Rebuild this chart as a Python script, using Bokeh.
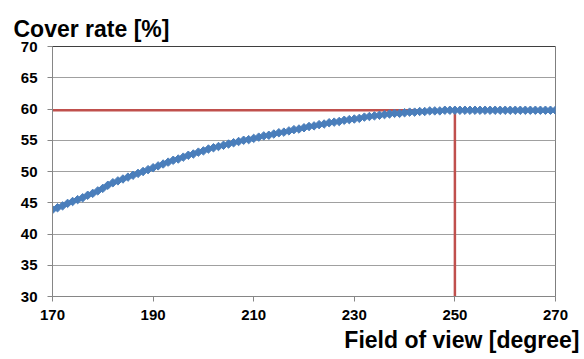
import numpy as np
from bokeh.plotting import figure
from bokeh.models import Title, Span, FixedTicker
from bokeh.embed import file_html
from bokeh.resources import INLINE

# Field of view [degree]
fov = list(range(170, 271))
# Cover rate [%] (one value per degree)
cover = [
    43.9, 44.2, 44.5, 44.9, 45.2, 45.5, 45.8, 46.2, 46.5, 46.9,   # 170-179
    47.3, 47.8, 48.2, 48.5, 48.8, 49.1, 49.4, 49.7, 50.0, 50.3,   # 180-189
    50.6, 50.9, 51.2, 51.5, 51.8, 52.0, 52.3, 52.6, 52.8, 53.1,   # 190-199
    53.3, 53.6, 53.8, 54.0, 54.2, 54.4, 54.6, 54.8, 55.0, 55.1,   # 200-209
    55.3, 55.5, 55.7, 55.8, 56.0, 56.2, 56.3, 56.5, 56.7, 56.8,   # 210-219
    57.0, 57.2, 57.3, 57.5, 57.6, 57.8, 57.9, 58.0, 58.2, 58.3,   # 220-229
    58.4, 58.5, 58.7, 58.8, 58.9, 59.0, 59.1, 59.2, 59.3, 59.3,   # 230-239
    59.4, 59.5, 59.5, 59.6, 59.6, 59.7, 59.7, 59.7, 59.8, 59.8,   # 240-249
    59.8, 59.8, 59.8, 59.8, 59.8, 59.8, 59.8, 59.8, 59.8, 59.8,   # 250-259
    59.8, 59.8, 59.8, 59.8, 59.8, 59.8, 59.8, 59.8, 59.8, 59.8,   # 260-269
    59.8,                                                         # 270
]
# Reference (red) line: horizontal to the chosen FOV, then down
ref_x = [170, 250, 250]
ref_y = [59.8, 59.8, 30]

x_ticks = [170, 190, 210, 230, 250, 270]
y_ticks = [30, 35, 40, 45, 50, 55, 60, 65, 70]

FONT = "Liberation Sans"

p = figure(frame_width=503, frame_height=250,
           x_range=(170, 270), y_range=(30, 70),
           output_backend="svg", toolbar_location=None,
           min_border_left=52, min_border_right=29,
           min_border_top=46, min_border_bottom=63)
p.background_fill_color = "white"
p.border_fill_color = "white"
p.outline_line_color = "#7f7f7f"
p.outline_line_width = 1

p.xgrid.grid_line_color = None
p.ygrid.grid_line_color = "#a0a0a0"
p.ygrid.grid_line_width = 1.2
p.yaxis.ticker = FixedTicker(ticks=y_ticks)
p.xaxis.ticker = FixedTicker(ticks=x_ticks)

for ax in (p.xaxis, p.yaxis):
    ax.axis_line_color = "#868686"
    ax.major_tick_line_color = "#868686"
    ax.major_tick_out = 5
    ax.major_tick_in = 0
    ax.minor_tick_line_color = None
    ax.major_label_text_font = FONT
    ax.major_label_text_font_style = "bold"
    ax.major_label_text_font_size = "15px"
    ax.major_label_text_color = "black"
p.yaxis.major_label_standoff = 10
p.xaxis.major_label_standoff = 8

p.add_layout(Span(location=70, dimension="width", line_color="black", line_width=1))

p.line(ref_x, ref_y, line_color="#C0504D", line_width=2.5)
p.line(fov, cover, line_color="#4A7EBB", line_width=2.5)
p.scatter(fov, cover, marker="square", angle=np.pi / 4, size=6,
          fill_color="#4A7EBB", line_color="#4A7EBB")

p.add_layout(Title(text="Cover rate [%]", align="left", offset=-39, standoff=6,
                   vertical_align="top",
                   text_font=FONT, text_font_style="bold", text_font_size="23px",
                   text_color="black"), "above")
p.add_layout(Title(text="Field of view [degree]", align="right", offset=-24, standoff=4,
                   text_font=FONT, text_font_style="bold", text_font_size="23px",
                   text_color="black"), "below")

open("out.html", "w").write(file_html(p, INLINE))
